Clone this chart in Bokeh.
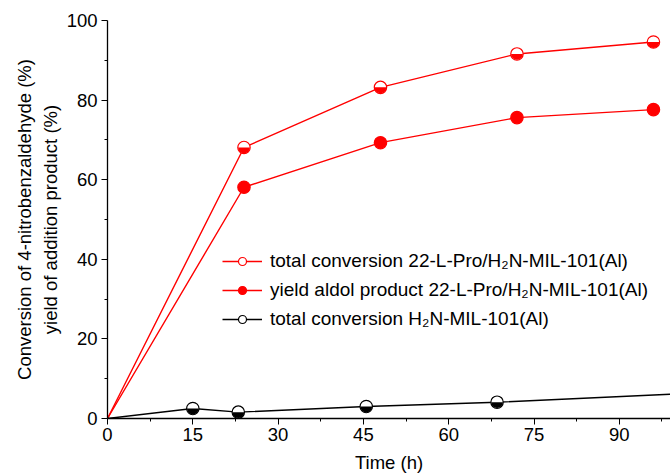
import numpy as np
from bokeh.plotting import figure
from bokeh.models import Range1d, Legend, LegendItem, FixedTicker
from bokeh.embed import file_html
from bokeh.resources import INLINE

# ---- data ----
time_red = [0, 24, 48, 72, 96]
conv_pro = [0, 68.1, 83.2, 91.6, 94.6]
yield_pro = [0, 58.1, 69.3, 75.6, 77.6]

time_black = [0, 15, 23, 45.5, 68.5, 102]
conv_mil = [0, 2.5, 1.6, 3.0, 4.1, 6.3]

x_ticks = [0, 15, 30, 45, 60, 75, 90]
y_ticks = [0, 20, 40, 60, 80, 100]

label1 = "total conversion 22-L-Pro/H\u2082N-MIL-101(Al)"
label2 = "yield aldol product 22-L-Pro/H\u2082N-MIL-101(Al)"
label3 = "total conversion H\u2082N-MIL-101(Al)"

RED = "#FF0000"
BLACK = "#000000"
FONT = "Liberation Sans"

p = figure(width=670, height=476, output_backend="svg", toolbar_location=None,
           x_range=Range1d(0, 99), y_range=Range1d(0, 100),
           min_border_left=107, min_border_right=0, min_border_top=20, min_border_bottom=58)
p.outline_line_color = None
p.grid.visible = False
p.background_fill_color = "white"

def styled_axis(ax):
    ax.axis_line_color = BLACK
    ax.axis_line_width = 1.3
    ax.major_tick_line_color = BLACK
    ax.minor_tick_line_color = BLACK
    ax.major_tick_in = 0
    ax.major_tick_out = 6
    ax.minor_tick_in = 0
    ax.minor_tick_out = 3
    ax.major_label_text_font = FONT
    ax.major_label_text_font_size = "18.5px"
    ax.major_label_text_color = BLACK
    ax.axis_label_text_font = FONT
    ax.axis_label_text_font_size = "18.5px"
    ax.axis_label_text_font_style = "normal"
    ax.axis_label_text_color = BLACK

p.xaxis.ticker = FixedTicker(ticks=x_ticks, minor_ticks=[7.5 + 15 * i for i in range(7)])
p.yaxis.ticker = FixedTicker(ticks=y_ticks, minor_ticks=[10, 30, 50, 70, 90])
styled_axis(p.xaxis[0])
styled_axis(p.yaxis[0])
p.xaxis.axis_label = "Time (h)"
p.yaxis.axis_label = "Conversion of 4-nitrobenzaldehyde (%)\nyield of addition product (%)"
p.xaxis.major_label_standoff = 3
p.yaxis.major_label_standoff = 4
p.xaxis.axis_label_standoff = 8
p.yaxis.axis_label_standoff = 3

R = 6.2  # marker radius in px

# series 1: half-filled red
l1 = p.line(time_red, conv_pro, line_color=RED, line_width=1.4)
s1 = p.scatter(time_red[1:], conv_pro[1:], size=2 * R, marker="circle",
               fill_color="white", line_color=RED, line_width=1.2)
p.wedge(time_red[1:], conv_pro[1:], radius=R - 0.3, radius_units="screen",
        start_angle=np.pi, end_angle=2 * np.pi, fill_color=RED, line_color=None)

# series 2: filled red
l2 = p.line(time_red, yield_pro, line_color=RED, line_width=1.4)
s2 = p.scatter(time_red[1:], yield_pro[1:], size=2 * R, marker="circle",
               fill_color=RED, line_color=RED, line_width=1.2)

# series 3: half-filled black
l3 = p.line(time_black, conv_mil, line_color=BLACK, line_width=1.4)
s3 = p.scatter(time_black[1:], conv_mil[1:], size=2 * R, marker="circle",
               fill_color="white", line_color=BLACK, line_width=1.2)
p.wedge(time_black[1:], conv_mil[1:], radius=R - 0.3, radius_units="screen",
        start_angle=np.pi, end_angle=2 * np.pi, fill_color=BLACK, line_color=None)

legend = Legend(items=[
    LegendItem(label=label1, renderers=[l1, s1]),
    LegendItem(label=label2, renderers=[l2, s2]),
    LegendItem(label=label3, renderers=[l3, s3]),
], location=(115, 88))
legend.border_line_color = None
legend.background_fill_alpha = 0
legend.padding = 0
legend.margin = 0
legend.spacing = 7
legend.glyph_width = 40
legend.glyph_height = 20
legend.label_height = 20
legend.label_standoff = 8
legend.label_text_font = FONT
legend.label_text_font_size = "19px"
legend.label_text_color = BLACK
p.add_layout(legend, "center")

open("out.html", "w").write(file_html(p, INLINE))
